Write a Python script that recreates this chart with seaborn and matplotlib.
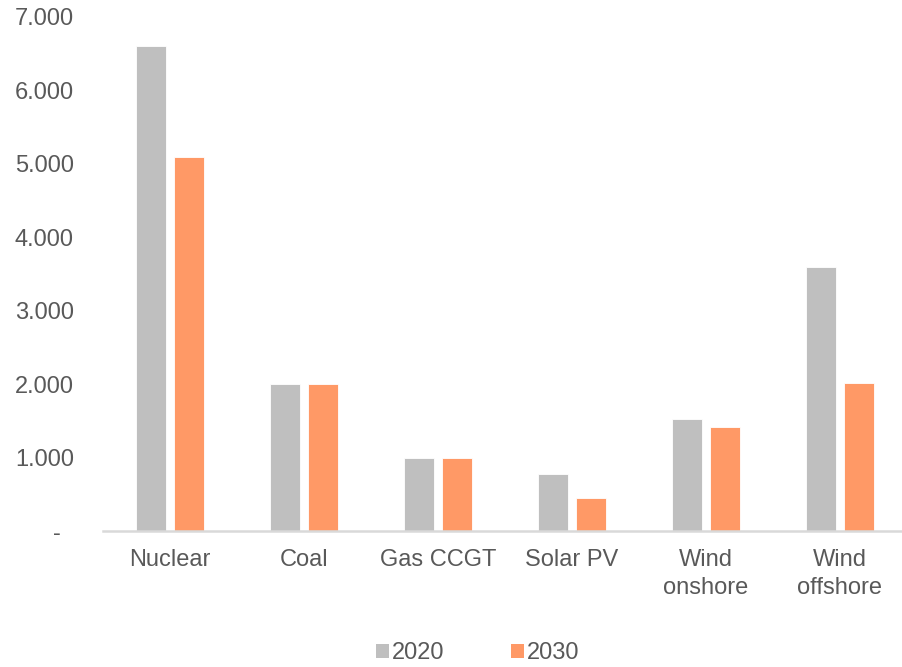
import matplotlib
matplotlib.use("Agg")
import matplotlib.pyplot as plt
import matplotlib.ticker as mticker
from matplotlib.patches import Patch
import pandas as pd
import seaborn as sns

categories = ["Nuclear", "Coal", "Gas CCGT", "Solar PV", "Wind\nonshore", "Wind\noffshore"]
values_2020 = [6600, 2000, 1000, 780, 1530, 3600]
values_2030 = [5100, 2000, 1000, 450, 1420, 2010]
years = ["2020", "2030"]
colors = ["#BFBFBF", "#FF9966"]

df = pd.DataFrame({
    "tech": categories * 2,
    "year": [years[0]] * len(categories) + [years[1]] * len(categories),
    "value": values_2020 + values_2030,
})

sns.set_theme(style="white")
plt.rcParams["font.family"] = ["Liberation Sans", "DejaVu Sans"]

fig = plt.figure(figsize=(9.03, 6.67), dpi=100)
ax = fig.add_axes([103 / 903, 1 - 531 / 667, 804 / 903, (531 - 17) / 667])

sns.barplot(data=df, x="tech", y="value", hue="year", palette=colors,
            width=0.567, gap=0.21, ax=ax, legend=False, saturation=1,
            edgecolor="white", linewidth=0.6)

ax.set_ylim(0, 7000)
ax.set_xlim(-0.5, len(categories) - 0.5)
ax.yaxis.set_major_locator(mticker.MultipleLocator(1000))
ax.yaxis.set_major_formatter(mticker.FuncFormatter(
    lambda v, _: "-  " if v == 0 else f"{int(v):,}".replace(",", ".")))

text_color = "#595959"
font_size = 17
ax.tick_params(axis="both", length=0, labelsize=font_size, labelcolor=text_color)
ax.tick_params(axis="y", pad=21)
ax.tick_params(axis="x", pad=13)
for lbl in ax.get_xticklabels():
    lbl.set_linespacing(1.34)
ax.set_xlabel("")
ax.set_ylabel("")

for side in ["left", "right", "top"]:
    ax.spines[side].set_visible(False)
ax.spines["bottom"].set_color("#D9D9D9")
ax.spines["bottom"].set_linewidth(1.8)

handles = [Patch(facecolor=c, edgecolor="none") for c in colors]
fig.legend(handles, years, loc="center", bbox_to_anchor=(477.5 / 903, 1 - 653 / 667),
           ncol=2, frameon=False, fontsize=font_size, labelcolor=text_color,
           handlelength=0.55, handleheight=0.55, handletextpad=0.13,
           columnspacing=2.8, borderpad=0, borderaxespad=0)

fig.savefig("out.png", dpi=100)
